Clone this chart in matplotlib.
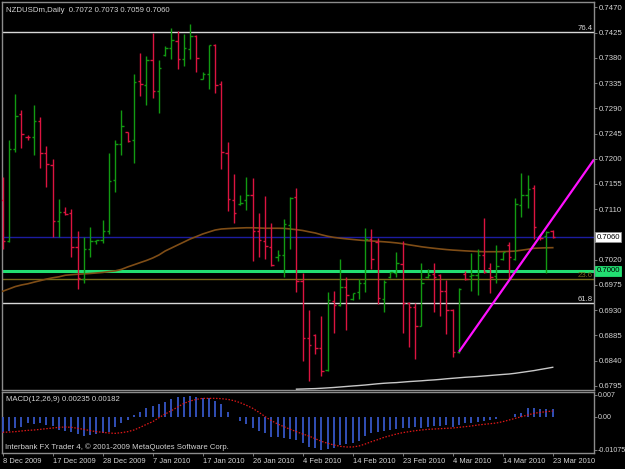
import matplotlib
matplotlib.use("Agg")
import matplotlib.pyplot as plt
import numpy as np

plt.rcParams['font.family'] = ['Liberation Sans', 'DejaVu Sans']

# ---------------- data ----------------
bar_idx = list(range(89))
opens = [0.7127, 0.7054, 0.7217, 0.7279, 0.7239, 0.7238, 0.7267, 0.7210, 0.7189, 0.7089,
         0.7105, 0.7103, 0.7042, 0.6986, 0.7040, 0.7053, 0.7055, 0.7072, 0.7162, 0.7226,
         0.7247, 0.7233, 0.7338, 0.7331, 0.7376, 0.7321, 0.7385, 0.7398, 0.7410, 0.7378,
         0.7396, 0.7418, 0.7343, 0.7351, 0.7403, 0.7333, 0.7210, 0.7127, 0.7119, 0.7127,
         0.7135, 0.7072, 0.7054, 0.7043, 0.7025, 0.7028, 0.7082, 0.7131, 0.6982, 0.6881,
         0.6885, 0.6863, 0.6823, 0.6946, 0.6939, 0.6971, 0.6950, 0.6962, 0.6979, 0.7057,
         0.7052, 0.6950, 0.6989, 0.6997, 0.7012, 0.6942, 0.6935, 0.6901, 0.6990, 0.6994,
         0.6993, 0.6964, 0.6930, 0.6855, 0.6994, 0.6991, 0.6993, 0.7028, 0.7005, 0.6991,
         0.7021, 0.7046, 0.7021, 0.7118, 0.7135, 0.7147, 0.7062, 0.7062, 0.7072]
highs = [0.7168, 0.7233, 0.7315, 0.7287, 0.7242, 0.7295, 0.7274, 0.7222, 0.7199, 0.7128,
         0.7114, 0.7111, 0.7072, 0.7061, 0.7079, 0.7056, 0.7091, 0.7210, 0.7233, 0.7287,
         0.7248, 0.7351, 0.7388, 0.7383, 0.7425, 0.7376, 0.7401, 0.7433, 0.7428, 0.7422,
         0.7440, 0.7421, 0.7354, 0.7403, 0.7405, 0.7339, 0.7229, 0.7173, 0.7135, 0.7167,
         0.7166, 0.7103, 0.7134, 0.7086, 0.7037, 0.7093, 0.7131, 0.7147, 0.6997, 0.6930,
         0.6887, 0.6919, 0.6963, 0.6964, 0.7021, 0.6989, 0.6961, 0.6985, 0.7076, 0.7075,
         0.7058, 0.6984, 0.6999, 0.7033, 0.7053, 0.6945, 0.6943, 0.7015, 0.7003, 0.7014,
         0.6994, 0.6984, 0.6933, 0.6970, 0.7000, 0.7032, 0.7040, 0.7094, 0.7014, 0.7046,
         0.7034, 0.7052, 0.7130, 0.7175, 0.7171, 0.7153, 0.7066, 0.7071, 0.7073]
lows = [0.7039, 0.7052, 0.7212, 0.7219, 0.7233, 0.7206, 0.7183, 0.7150, 0.7060, 0.7060,
        0.7100, 0.7025, 0.6967, 0.6979, 0.7024, 0.7048, 0.7050, 0.7066, 0.7140, 0.7206,
        0.7230, 0.7192, 0.7311, 0.7296, 0.7308, 0.7282, 0.7383, 0.7377, 0.7360, 0.7366,
        0.7378, 0.7355, 0.7343, 0.7324, 0.7317, 0.7181, 0.7107, 0.7086, 0.7118, 0.7109,
        0.7018, 0.7025, 0.7021, 0.7009, 0.7017, 0.6990, 0.7039, 0.6963, 0.6840, 0.6804,
        0.6852, 0.6812, 0.6822, 0.6890, 0.6938, 0.6894, 0.6949, 0.6950, 0.6962, 0.7003,
        0.6941, 0.6926, 0.6988, 0.6990, 0.6890, 0.6865, 0.6843, 0.6901, 0.6987, 0.6926,
        0.6919, 0.6888, 0.6847, 0.6854, 0.6983, 0.6964, 0.6957, 0.6997, 0.6960, 0.6979,
        0.7020, 0.6984, 0.7020, 0.7097, 0.7113, 0.7057, 0.7055, 0.6996, 0.7059]
closes = [0.7054, 0.7217, 0.7277, 0.7244, 0.7238, 0.7268, 0.7210, 0.7190, 0.7089, 0.7105,
          0.7102, 0.7043, 0.6987, 0.7040, 0.7054, 0.7055, 0.7072, 0.7161, 0.7226, 0.7258,
          0.7232, 0.7336, 0.7333, 0.7376, 0.7321, 0.7361, 0.7398, 0.7412, 0.7377, 0.7397,
          0.7418, 0.7379, 0.7351, 0.7403, 0.7332, 0.7212, 0.7128, 0.7103, 0.7122, 0.7135,
          0.7072, 0.7055, 0.7044, 0.7011, 0.7028, 0.7083, 0.7130, 0.6982, 0.6881, 0.6868,
          0.6863, 0.6822, 0.6948, 0.6939, 0.6971, 0.6958, 0.6961, 0.6979, 0.7057, 0.7021,
          0.6951, 0.6981, 0.6998, 0.7014, 0.6942, 0.6936, 0.6901, 0.6978, 0.6992, 0.6989,
          0.6964, 0.6930, 0.6855, 0.6967, 0.6985, 0.6993, 0.7028, 0.6999, 0.6990, 0.7009,
          0.7034, 0.7024, 0.7119, 0.7135, 0.7146, 0.7079, 0.7058, 0.7070, 0.7060]

ma_mid = [0.69638, 0.69679, 0.69721, 0.69750, 0.69771, 0.69800, 0.69827, 0.69855, 0.69878, 0.69896,
          0.69923, 0.69933, 0.69941, 0.69948, 0.69955, 0.69964, 0.69974, 0.69989, 0.70001, 0.70028,
          0.70072, 0.70110, 0.70149, 0.70187, 0.70231, 0.70285, 0.70356, 0.70409, 0.70463, 0.70516,
          0.70570, 0.70614, 0.70659, 0.70695, 0.70730, 0.70748, 0.70755, 0.70761, 0.70766, 0.70770,
          0.70770, 0.70766, 0.70761, 0.70761, 0.70761, 0.70759, 0.70748, 0.70736, 0.70721, 0.70698,
          0.70677, 0.70645, 0.70618, 0.70598, 0.70584, 0.70572, 0.70561, 0.70550, 0.70541, 0.70534,
          0.70527, 0.70520, 0.70511, 0.70500, 0.70486, 0.70466, 0.70449, 0.70431, 0.70417, 0.70404,
          0.70392, 0.70381, 0.70372, 0.70365, 0.70358, 0.70352, 0.70347, 0.70343, 0.70343, 0.70343,
          0.70345, 0.70349, 0.70354, 0.70370, 0.70386, 0.70404, 0.70409, 0.70413, 0.70415]

ma_long_idx = list(range(47, 89))
ma_long = [0.67893, 0.67896, 0.67900, 0.67903, 0.67909, 0.67916, 0.67923, 0.67932, 0.67941, 0.67950,
           0.67958, 0.67967, 0.67978, 0.67989, 0.67998, 0.68005, 0.68010, 0.68019, 0.68028, 0.68035,
           0.68042, 0.68051, 0.68058, 0.68067, 0.68078, 0.68087, 0.68096, 0.68105, 0.68112, 0.68119,
           0.68128, 0.68137, 0.68146, 0.68155, 0.68163, 0.68176, 0.68192, 0.68208, 0.68224, 0.68244,
           0.68263, 0.68283]

macd_main = [-0.00516, -0.00452, -0.00376, -0.00323, -0.00215, -0.00237, -0.00215, -0.00269, -0.00301, -0.00430,
             -0.00452, -0.00484, -0.00559, -0.00624, -0.00591, -0.00559, -0.00538, -0.00484, -0.00323, -0.00194,
             -0.00108, 0.00054, 0.00140, 0.00269, 0.00344, 0.00409, 0.00484, 0.00570, 0.00624, 0.00645,
             0.00667, 0.00624, 0.00591, 0.00591, 0.00516, 0.00409, 0.00140, -0.00010, -0.00129, -0.00237,
             -0.00376, -0.00452, -0.00538, -0.00645, -0.00667, -0.00699, -0.00731, -0.00753, -0.00860, -0.00968,
             -0.01022, -0.01075, -0.01054, -0.01022, -0.00914, -0.00882, -0.00860, -0.00774, -0.00624, -0.00538,
             -0.00484, -0.00462, -0.00430, -0.00409, -0.00376, -0.00376, -0.00323, -0.00355, -0.00323, -0.00290,
             -0.00290, -0.00280, -0.00323, -0.00269, -0.00215, -0.00194, -0.00161, -0.00129, -0.00108, -0.00075,
             -0.00022, -0.00011, 0.00075, 0.00129, 0.00269, 0.00269, 0.00237, 0.00237, 0.00235]
macd_signal = [-0.00505, -0.00495, -0.00484, -0.00462, -0.00441, -0.00430, -0.00409, -0.00387, -0.00366, -0.00344,
               -0.00333, -0.00344, -0.00376, -0.00409, -0.00452, -0.00484, -0.00505, -0.00527, -0.00538, -0.00516,
               -0.00484, -0.00430, -0.00344, -0.00247, -0.00161, -0.00032, 0.00086, 0.00194, 0.00312, 0.00430,
               0.00505, 0.00559, 0.00591, 0.00591, 0.00591, 0.00581, 0.00559, 0.00516, 0.00452, 0.00366,
               0.00269, 0.00140, 0.0, -0.00129, -0.00237, -0.00323, -0.00409, -0.00484, -0.00559, -0.00624,
               -0.00710, -0.00796, -0.00860, -0.00914, -0.00957, -0.00978, -0.00978, -0.00946, -0.00882, -0.00806,
               -0.00742, -0.00667, -0.00613, -0.00559, -0.00516, -0.00484, -0.00452, -0.00430, -0.00409, -0.00398,
               -0.00387, -0.00376, -0.00366, -0.00344, -0.00323, -0.00301, -0.00269, -0.00247, -0.00226, -0.00204,
               -0.00161, -0.00108, -0.00054, 0.0, 0.00054, 0.00108, 0.00140, 0.00161, 0.00182]

date_tick_bars = [0, 8, 16, 24, 32, 40, 48, 56, 64, 72, 80, 88]
date_labels = ["8 Dec 2009", "17 Dec 2009", "28 Dec 2009", "7 Jan 2010", "17 Jan 2010",
               "26 Jan 2010", "4 Feb 2010", "14 Feb 2010", "23 Feb 2010", "4 Mar 2010",
               "14 Mar 2010", "23 Mar 2010"]
price_ticks = [0.7470, 0.7425, 0.7380, 0.7335, 0.7290, 0.7245, 0.7200, 0.7155, 0.7110,
               0.7020, 0.6975, 0.6930, 0.6885, 0.6840, 0.6795]
macd_ticks = [0.007, 0.0, -0.01075]
macd_tick_labels = ["0.007", "0.00", "-0.01075"]

bid_level = 0.7060
support_level = 0.7000
fib_names = ["76.4", "61.8", "23.6"]
fib_values = [0.7426, 0.6942, 0.6985]
fib_colors = ["#d8d8d8", "#d8d8d8", "#7a6a1c"]
trend_x = [73, 88]
trend_y = [0.6856, 0.7094]

title_text = "NZDUSDm,Daily  0.7072 0.7073 0.7059 0.7060"
macd_text = "MACD(12,26,9) 0.00235 0.00182"
footer_text = "Interbank FX Trader 4, \u00a9 2001-2009 MetaQuotes Software Corp."

# ---------------- figure ----------------
W, H = 625, 469
fig = plt.figure(figsize=(W / 100, H / 100), dpi=100, facecolor="black")
ax = fig.add_axes([2 / W, 1 - 390 / H, 592 / W, 388 / H], facecolor="black")
axm = fig.add_axes([2 / W, 1 - 453 / H, 592 / W, 61 / H], facecolor="black")

XMIN, XMAX = -0.11, 94.6
frame = "#8c8c8c"
txt = "#d4d4d4"
fs = 5.6

for a in (ax, axm):
    a.set_xlim(XMIN, XMAX)
    for s in a.spines.values():
        s.set_color(frame)
        s.set_linewidth(1.0)
    a.yaxis.tick_right()
    a.tick_params(axis="y", colors=txt, labelsize=fs, length=2, width=0.6, pad=1.5,
                  labelcolor=txt)
    a.tick_params(axis="y", which="both", color=frame)

ax.set_ylim(0.67878, 0.74794)
ax.set_xticks([])
ax.set_yticks(price_ticks)
ax.set_yticklabels(["%.4f" % v for v in price_ticks])

x = np.array(bar_idx, dtype=float)
o = np.array(opens); h = np.array(highs); l = np.array(lows); c = np.array(closes)
green = "#129a12"
red = "#dc1440"
cols = np.where(c >= o, green, red)

# horizontal objects
ax.axhline(bid_level, color="#1c1ca0", lw=1.0, zorder=1)
for name, val, col in zip(fib_names, fib_values, fib_colors):
    ax.axhline(val, color=col, lw=1.0, zorder=1)
    ax.text(94.35, val, name, color=col, fontsize=fs, ha="right", va="bottom", zorder=5)
ax.axhline(support_level, color="#22df72", lw=2.2, zorder=2)

# moving averages
ax.plot(x, ma_mid, color="#7f4d16", lw=1.2, zorder=3)
ax.plot(ma_long_idx, ma_long, color="#c8c8c8", lw=1.0, zorder=3)

# OHLC bars
ax.vlines(x, l, h, colors=cols, lw=1.0, zorder=4)
ax.hlines(o, x - 0.38, x, colors=cols, lw=1.0, zorder=4)
ax.hlines(c, x, x + 0.38, colors=cols, lw=1.0, zorder=4)

# trend ray
slope = (trend_y[1] - trend_y[0]) / (trend_x[1] - trend_x[0])
ax.plot([trend_x[0], XMAX], [trend_y[0], trend_y[0] + slope * (XMAX - trend_x[0])],
        color="#ff10ff", lw=1.6, zorder=6, solid_capstyle="butt")

# price boxes on axis
yt = ax.get_yaxis_transform()
ax.text(1.004, bid_level, "%.4f" % bid_level, transform=yt, fontsize=fs, color="black",
        ha="left", va="center", clip_on=False, zorder=7,
        bbox=dict(boxstyle="square,pad=0.18", fc="white", ec="#909090", lw=0.6))
ax.text(1.004, support_level, "%.4f" % support_level, transform=yt, fontsize=fs, color="black",
        ha="left", va="center", clip_on=False, zorder=7,
        bbox=dict(boxstyle="square,pad=0.18", fc="#22df72", ec="#22df72", lw=0.6))

ax.text(4 / 592, 1 - 5 / 388, title_text, transform=ax.transAxes, color=txt,
        fontsize=fs, ha="left", va="top")

# MACD panel
axm.set_ylim(-0.01172, 0.00796)
axm.set_yticks(macd_ticks)
axm.set_yticklabels(macd_tick_labels)
axm.tick_params(axis="y", labelsize=5.1, pad=1.0)
axm.vlines(x, 0, macd_main, colors="#3656c6", lw=1.3, zorder=3)
axm.plot(x, macd_signal, color="#e01818", lw=0.9, linestyle=(0, (1.2, 1.3)), zorder=4)
axm.set_xticks(date_tick_bars)
axm.set_xticklabels(date_labels, ha="left")
axm.tick_params(axis="x", colors=txt, labelsize=5.4, length=2, width=0.6, pad=1.5,
                color=frame, labelcolor=txt)
axm.text(4 / 592, 1 - 4 / 61, macd_text, transform=axm.transAxes, color=txt,
         fontsize=fs, ha="left", va="top")
axm.text(3 / 592, 2 / 61, footer_text, transform=axm.transAxes, color=txt,
         fontsize=fs, ha="left", va="bottom")

fig.savefig("out.png", dpi=100, facecolor="black")
